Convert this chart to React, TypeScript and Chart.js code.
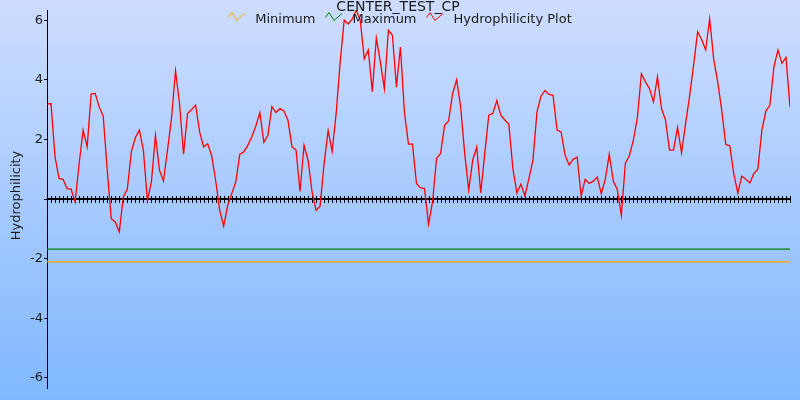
import React, { useEffect, useRef } from 'react';
import { Chart, registerables } from 'chart.js';

Chart.register(...registerables);

const chartTitle = 'CENTER_TEST_CP';
const yAxisTitle = 'Hydrophilicity';
const seriesLabels = ['Minimum', 'Maximum', 'Hydrophilicity Plot'];
const seriesColors = ['#ffa500', '#008000', '#ff0000'];
const minimumValue = -2.11;
const maximumValue = -1.68;
const yTickValues = [-6, -4, -2, 0, 2, 4, 6];
const yLimit = 6.34;

const hydrophilicity = [
  3.18, 3.2, 1.41, 0.69, 0.66, 0.35, 0.33, -0.1, 1.19, 2.31,
  1.75, 3.52, 3.54, 3.09, 2.78, 0.97, -0.66, -0.77, -1.1, 0.07,
  0.33, 1.58, 2.06, 2.31, 1.64, -0.05, 0.57, 2.13, 0.97, 0.6,
  1.64, 2.7, 4.3, 3.2, 1.5, 2.87, 3.0, 3.15, 2.25, 1.75,
  1.85, 1.45, 0.62, -0.38, -0.91, -0.21, 0.18, 0.57, 1.5, 1.58,
  1.8, 2.09, 2.45, 2.9, 1.9, 2.14, 3.1, 2.9, 3.03, 2.95,
  2.64, 1.75, 1.65, 0.25, 1.8, 1.3, 0.24, -0.38, -0.24, 1.19,
  2.3, 1.6, 2.87, 4.6, 6.0, 5.87, 6.03, 6.34, 6.0, 4.7,
  5.0, 3.6, 5.4, 4.6, 3.7, 5.66, 5.5, 3.75, 5.1, 2.9,
  1.84, 1.84, 0.52, 0.37, 0.35, -0.85, -0.1, 1.36, 1.53, 2.47,
  2.62, 3.54, 4.0, 3.09, 1.53, 0.3, 1.3, 1.75, 0.2, 1.53,
  2.81, 2.87, 3.3, 2.81, 2.65, 2.51, 1.02, 0.2, 0.5, 0.1,
  0.69, 1.3, 2.92, 3.45, 3.64, 3.51, 3.48, 2.31, 2.25, 1.47,
  1.14, 1.33, 1.41, 0.1, 0.66, 0.52, 0.6, 0.74, 0.18, 0.66,
  1.5, 0.6, 0.32, -0.55, 1.19, 1.45, 1.97, 2.73, 4.2, 3.93,
  3.71, 3.26, 4.1, 3.04, 2.65, 1.64, 1.64, 2.4, 1.55, 2.53,
  3.45, 4.49, 5.61, 5.35, 5.0, 6.05, 4.69, 3.93, 2.98, 1.83,
  1.79, 0.85, 0.2, 0.77, 0.66, 0.54, 0.85, 1.0, 2.31, 2.95,
  3.15, 4.43, 5.0, 4.55, 4.75, 3.09,
];

const positions = hydrophilicity.map((_, i) => i);

const FONT = '"DejaVu Sans"';

const customPlugin = {
  id: 'customDecor',
  beforeDraw(chart: any) {
    const { ctx, width, height } = chart;
    const g = ctx.createLinearGradient(0, 0, 0, height);
    g.addColorStop(0, 'rgb(206,221,255)');
    g.addColorStop(1, 'rgb(128,184,255)');
    ctx.save();
    ctx.fillStyle = g;
    ctx.fillRect(0, 0, width, height);
    ctx.restore();
  },
  beforeDatasetsDraw(chart: any) {
    const { ctx, chartArea, scales } = chart;
    const x = scales.x;
    const y = scales.y;
    const y0 = Math.round(y.getPixelForValue(0));
    ctx.save();
    ctx.fillStyle = '#000';
    ctx.fillRect(chartArea.left, y0 - 1, chartArea.right - chartArea.left, 2);
    for (const p of positions) {
      const px = Math.round(x.getPixelForValue(p));
      ctx.fillRect(px, y0 - 3, 1, 7);
    }
    ctx.restore();
  },
  afterDraw(chart: any) {
    const { ctx } = chart;
    ctx.save();
    ctx.font = `14px ${FONT}`;
    ctx.fillStyle = '#1a1a1a';
    ctx.textBaseline = 'alphabetic';
    ctx.textAlign = 'center';
    ctx.fillText(chartTitle, 398, 10.5);

    // legend
    ctx.font = `13px ${FONT}`;
    const iconW = 17;
    const gapIcon = 10;
    const gapItem = 10;
    const items = chart.data.datasets.map((ds: any) => ({
      label: ds.label,
      color: ds.borderColor,
      w: ctx.measureText(ds.label).width,
    }));
    let total = 0;
    items.forEach((it: any, i: number) => {
      total += iconW + gapIcon + it.w + (i > 0 ? gapItem : 0);
    });
    let xx = 400 - total / 2;
    ctx.textAlign = 'left';
    items.forEach((it: any) => {
      ctx.strokeStyle = it.color;
      ctx.lineWidth = 1;
      ctx.beginPath();
      ctx.moveTo(xx, 17.5);
      ctx.lineTo(xx + 3.5, 12.5);
      ctx.lineTo(xx + 8.5, 20.5);
      ctx.lineTo(xx + 16.5, 13.5);
      ctx.stroke();
      ctx.fillStyle = '#1a1a1a';
      ctx.fillText(it.label, xx + iconW + gapIcon, 22.7);
      xx += iconW + gapIcon + it.w + gapItem;
    });

    // y axis title
    ctx.translate(19.5, 195.5);
    ctx.rotate(-Math.PI / 2);
    ctx.textAlign = 'center';
    ctx.fillText(yAxisTitle, 0, 0);
    ctx.restore();
  },
};

export default function App() {
  const canvasRef = useRef<HTMLCanvasElement | null>(null);

  useEffect(() => {
    if (!canvasRef.current) return;
    const first = positions[0];
    const last = positions[positions.length - 1];
    const chart = new Chart(canvasRef.current, {
      type: 'line',
      data: {
        datasets: [
          {
            label: seriesLabels[0],
            data: [
              { x: first, y: minimumValue },
              { x: last, y: minimumValue },
            ],
            borderColor: seriesColors[0],
            borderWidth: 1.2,
            pointRadius: 0,
          },
          {
            label: seriesLabels[1],
            data: [
              { x: first, y: maximumValue },
              { x: last, y: maximumValue },
            ],
            borderColor: seriesColors[1],
            borderWidth: 1.2,
            pointRadius: 0,
          },
          {
            label: seriesLabels[2],
            data: positions.map((p, i) => ({ x: p, y: hydrophilicity[i] })),
            borderColor: seriesColors[2],
            borderWidth: 1.3,
            pointRadius: 0,
            tension: 0,
          },
        ],
      },
      options: {
        animation: false,
        responsive: true,
        maintainAspectRatio: false,
        layout: { padding: { top: 10, right: 10, bottom: 12, left: 0 } },
        plugins: {
          legend: { display: false },
          title: { display: false },
          tooltip: { enabled: false },
        },
        scales: {
          x: {
            type: 'linear',
            min: first,
            max: last,
            display: false,
          },
          y: {
            type: 'linear',
            min: -yLimit,
            max: yLimit,
            afterBuildTicks: (scale: any) => {
              scale.ticks = yTickValues.map((v) => ({ value: v }));
            },
            afterFit: (scale: any) => {
              scale.width = 47;
            },
            ticks: {
              padding: 1,
              color: '#1a1a1a',
              font: { family: 'DejaVu Sans', size: 13 },
              callback: (v: any) => (v === 0 ? '' : String(v)),
            },
            grid: {
              drawOnChartArea: false,
              drawTicks: true,
              tickLength: 3,
              color: '#000',
            },
            border: { display: true, color: '#000', width: 1 },
          },
        },
      },
      plugins: [customPlugin],
    });
    return () => chart.destroy();
  }, []);

  return (
    <div style={{ position: 'absolute', left: 0, top: 0, width: 800, height: 400 }}>
      <canvas ref={canvasRef} />
    </div>
  );
}
